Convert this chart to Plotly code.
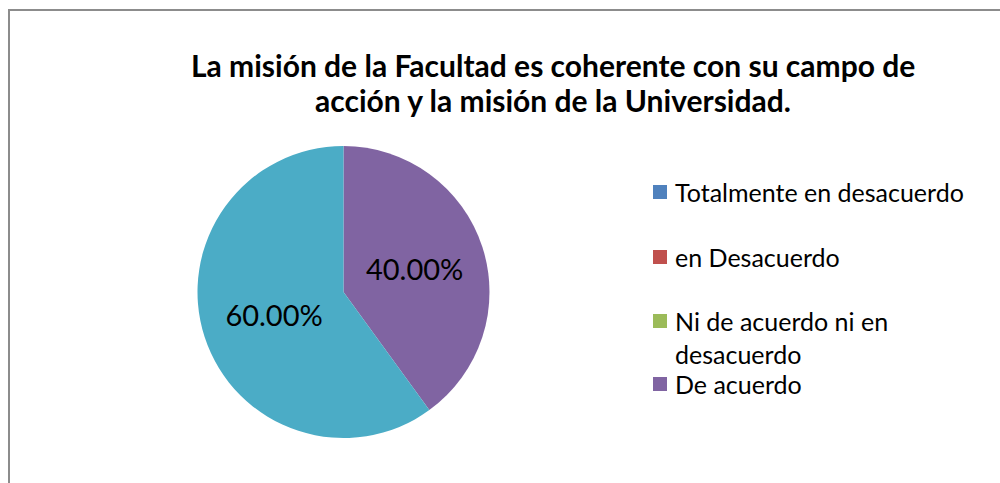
import plotly.graph_objects as go

title_lines = ["La misión de la Facultad es coherente con su campo de",
               "acción y la misión de la Universidad."]
slice_labels = ["De acuerdo", "Totalmente de acuerdo"]
slice_values = [40.0, 60.0]
slice_colors = ["#8064A2", "#4BACC6"]

legend_labels = ["Totalmente en desacuerdo", "en Desacuerdo",
                 "Ni de acuerdo ni en<br>desacuerdo", "De acuerdo"]
legend_colors = ["#4F81BD", "#C0504D", "#9BBB59", "#8064A2"]

W, H = 1000, 483
FONT = "Lato"


def px(x):
    return x / W


def py(y):
    return 1 - y / H


fig = go.Figure()
cx, cy, r = 343.5, 292, 146
fig.add_trace(go.Pie(
    labels=slice_labels, values=slice_values,
    marker=dict(colors=slice_colors, line=dict(width=0)),
    sort=False, direction="clockwise", rotation=0,
    textinfo="percent", texttemplate="%{percent:.2%}",
    textposition="inside", insidetextorientation="horizontal",
    textfont=dict(family=FONT, size=29, color="black"),
    showlegend=False, hoverinfo="label+percent",
    domain=dict(x=[px(cx - r), px(cx + r)], y=[py(cy + r), py(cy - r)]),
))

shapes = [dict(type="rect", xref="paper", yref="paper",
               x0=px(9), x1=1.05, y0=-0.05, y1=py(10),
               line=dict(color="#8C8C8C", width=2), fillcolor="rgba(0,0,0,0)")]
annotations = []
for line, ty in zip(title_lines, [65, 100]):
    annotations.append(dict(text="<b>" + line + "</b>", xref="paper", yref="paper",
                            x=px(553), y=py(ty), xanchor="center", yanchor="middle",
                            showarrow=False, align="center",
                            font=dict(family=FONT, size=30, color="black")))

entry_y = [192, 257, 321, 384]
text_y = [192, 257, 337, 384]
for lab, col, sy, ty in zip(legend_labels, legend_colors, entry_y, text_y):
    shapes.append(dict(type="rect", xref="paper", yref="paper",
                       x0=px(653), x1=px(667), y0=py(sy + 7), y1=py(sy - 7),
                       line=dict(width=0), fillcolor=col))
    annotations.append(dict(text=lab, xref="paper", yref="paper",
                            x=px(673), y=py(ty), xanchor="left", yanchor="middle",
                            showarrow=False, align="left",
                            font=dict(family=FONT, size=25, color="black")))

fig.update_layout(width=W, height=H, margin=dict(l=0, r=0, t=0, b=0),
                  paper_bgcolor="white", plot_bgcolor="white",
                  shapes=shapes, annotations=annotations, showlegend=False)
fig.write_html("out.html", config={"displayModeBar": False},
               post_script="document.body.style.margin='0';document.body.style.overflow='hidden';")
